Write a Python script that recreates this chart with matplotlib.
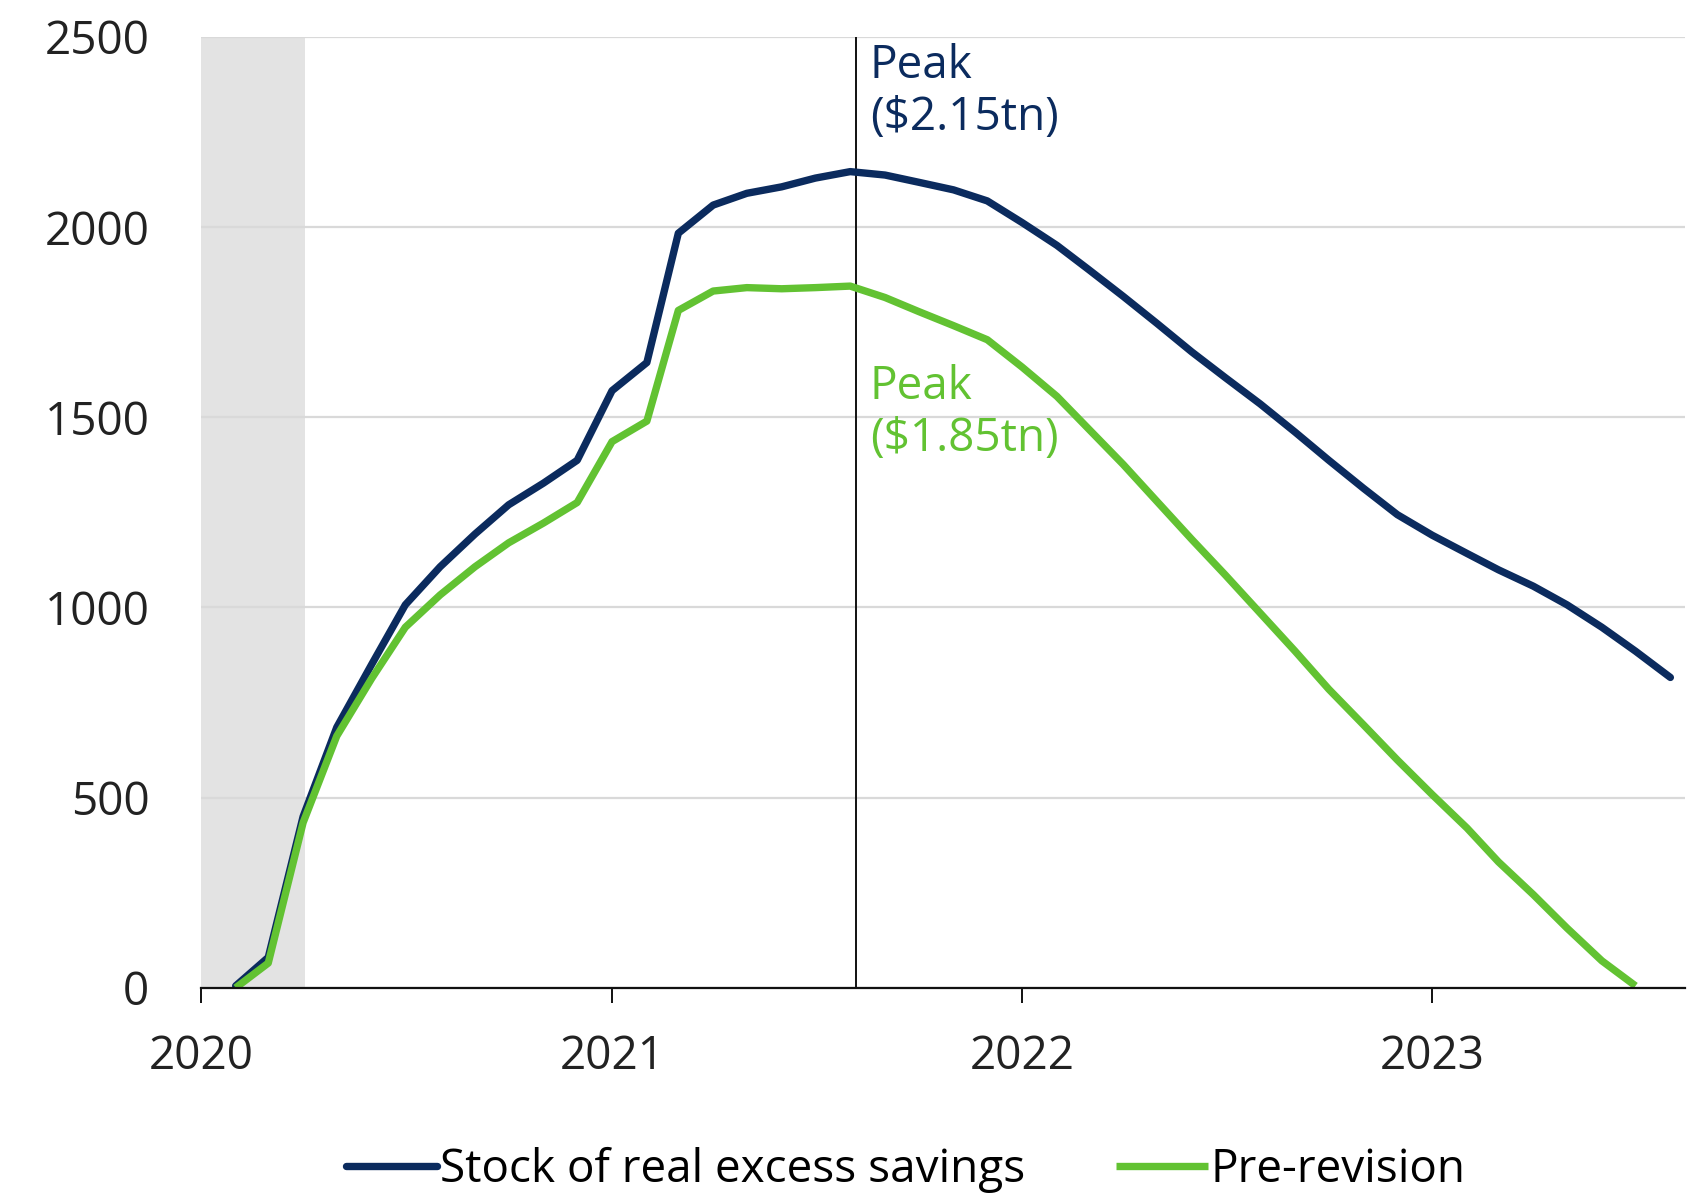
import matplotlib.pyplot as plt
import matplotlib.dates as mdates
import numpy as np
import pandas as pd

plt.rcParams['font.family'] = ['Open Sans', 'DejaVu Sans']

# Monthly stock of real excess savings, $bn
months_revised = pd.date_range('2020-02-01', '2023-08-01', freq='MS')
savings_revised = [5, 80, 450, 685, 850, 1007, 1107, 1193, 1270, 1327, 1387,
                   1570, 1644, 1984, 2058, 2089, 2106, 2129, 2146, 2137, 2118,
                   2098, 2069, 2012, 1952, 1889, 1818, 1747, 1672, 1604, 1535,
                   1461, 1387, 1313, 1244, 1190, 1142, 1099, 1056, 1007, 948,
                   885, 816]

months_pre = pd.date_range('2020-02-01', '2023-07-01', freq='MS')
savings_pre = [0, 65, 434, 662, 813, 948, 1033, 1107, 1170, 1222, 1276,
               1436, 1490, 1781, 1832, 1841, 1838, 1841, 1845, 1815, 1778,
               1741, 1704, 1632, 1555, 1470, 1376, 1279, 1179, 1085, 985,
               885, 785, 691, 599, 508, 420, 331, 245, 157, 71, 5]

year_ticks = pd.to_datetime(['2020-01-01', '2021-01-01', '2022-01-01', '2023-01-01'])
year_labels = ['2020', '2021', '2022', '2023']
y_ticks = [0, 500, 1000, 1500, 2000, 2500]

navy = '#0b2b5e'
green = '#62c232'
fs = 33

fig = plt.figure(figsize=(17.02, 11.93), dpi=100)
ax = fig.add_axes([0.118, 0.172, 0.872, 0.797])

# recession shading
ax.axvspan(pd.Timestamp('2020-01-01'), pd.Timestamp('2020-04-03'), color='#e3e3e3', lw=0, zorder=0)

ax.plot(months_revised, savings_revised, color=navy, lw=5.3, solid_capstyle='round',
        solid_joinstyle='round', label='Stock of real excess savings', zorder=3)
ax.plot(months_pre, savings_pre, color=green, lw=5.3, solid_capstyle='butt',
        label='Pre-revision', zorder=3)

peak = pd.Timestamp('2021-08-06')
ax.axvline(peak, color='#111111', lw=1.4, zorder=2)
ax.annotate('Peak\n($2.15tn)', xy=(peak, 2485), xytext=(10, 0), textcoords='offset points',
            ha='left', va='top', fontsize=fs, color=navy, linespacing=1.17,
            annotation_clip=False)
ax.annotate('Peak\n($1.85tn)', xy=(peak, 1640), xytext=(10, 0), textcoords='offset points',
            ha='left', va='top', fontsize=fs, color=green, linespacing=1.17)

ax.set_xlim(pd.Timestamp('2020-01-01'), pd.Timestamp('2023-08-14'))
ax.set_ylim(0, 2500)
ax.set_yticks(y_ticks)
ax.set_yticklabels([str(v) for v in y_ticks])
ax.set_xticks(year_ticks)
ax.set_xticklabels(year_labels)
ax.grid(axis='y', color='#d9d9d9', lw=1.6, zorder=1)
ax.set_axisbelow(True)

for s in ['top', 'right', 'left']:
    ax.spines[s].set_visible(False)
ax.spines['bottom'].set_color('#111111')
ax.spines['bottom'].set_linewidth(1.6)
ax.spines['bottom'].set_zorder(4)

ax.tick_params(axis='y', length=0, pad=37, labelsize=fs, labelcolor='#222222')
ax.tick_params(axis='x', length=11, width=1.4, pad=22, labelsize=fs, labelcolor='#222222',
               color='#111111')

handles, labels = ax.get_legend_handles_labels()
fig.legend(handles, labels, loc='center', bbox_to_anchor=(0.532, 0.019), ncol=2,
           frameon=False, fontsize=fs, handlelength=2.0, handletextpad=0.05,
           columnspacing=2.0, borderaxespad=0)

fig.savefig('out.png', dpi=100)
